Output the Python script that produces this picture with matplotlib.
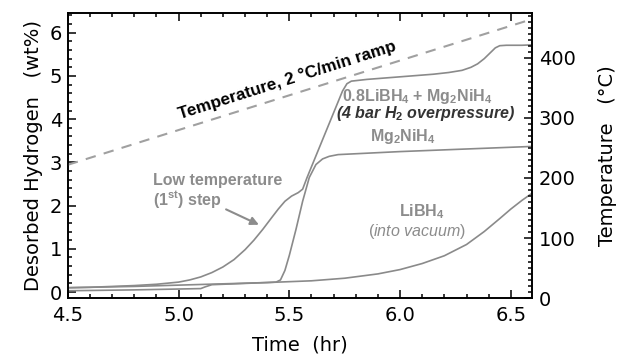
import matplotlib
matplotlib.use("Agg")
import matplotlib.pyplot as plt
from matplotlib.ticker import MultipleLocator

plt.rcParams['font.family'] = ['DejaVu Sans']
plt.rcParams['mathtext.fontset'] = 'custom'
plt.rcParams['mathtext.rm'] = 'Liberation Sans:bold'
plt.rcParams['mathtext.bf'] = 'Liberation Sans:bold'
plt.rcParams['mathtext.it'] = 'Liberation Sans:italic'
plt.rcParams['mathtext.default'] = 'rm'

# ---- data ----
comp_time = [4.50, 4.60, 4.70, 4.80, 4.90, 5.00, 5.05, 5.10, 5.15, 5.20, 5.25, 5.30,
             5.34, 5.38, 5.42, 5.45, 5.48, 5.51, 5.54, 5.56, 5.58, 5.62, 5.66, 5.70,
             5.74, 5.76, 5.78, 5.85, 5.95, 6.05, 6.15, 6.22, 6.28, 6.32, 6.35, 6.38,
             6.41, 6.43, 6.45, 6.48, 6.55, 6.60]
comp_wt = [0.10, 0.11, 0.13, 0.15, 0.18, 0.23, 0.28, 0.35, 0.45, 0.58, 0.75, 0.98,
           1.20, 1.45, 1.72, 1.92, 2.10, 2.22, 2.30, 2.38, 2.65, 3.15, 3.65, 4.15,
           4.65, 4.82, 4.88, 4.92, 4.96, 5.00, 5.04, 5.08, 5.13, 5.20, 5.28, 5.40,
           5.55, 5.65, 5.70, 5.71, 5.71, 5.72]

mg_time = [4.50, 4.80, 5.00, 5.10, 5.12, 5.15, 5.20, 5.30, 5.40, 5.44, 5.46, 5.48,
           5.50, 5.53, 5.56, 5.59, 5.62, 5.65, 5.68, 5.72, 5.80, 6.00, 6.20, 6.40, 6.60]
mg_wt = [0.03, 0.05, 0.07, 0.08, 0.12, 0.17, 0.18, 0.20, 0.22, 0.23, 0.28, 0.50,
         0.85, 1.45, 2.10, 2.65, 2.95, 3.08, 3.14, 3.18, 3.20, 3.25, 3.29, 3.33, 3.37]

li_time = [4.50, 4.80, 5.00, 5.20, 5.40, 5.60, 5.75, 5.90, 6.00, 6.10, 6.20, 6.30,
           6.38, 6.45, 6.50, 6.55, 6.60]
li_wt = [0.10, 0.13, 0.16, 0.19, 0.22, 0.26, 0.32, 0.42, 0.52, 0.66, 0.84, 1.10,
         1.40, 1.70, 1.92, 2.12, 2.30]

temp_time = [4.5, 6.6]
temp_c = [222, 465]

x_ticks = [4.5, 5.0, 5.5, 6.0, 6.5]
x_ticklabels = ["4.5", "5.0", "5.5", "6.0", "6.5"]
wt_ticks = [0, 1, 2, 3, 4, 5, 6]
temp_ticks = [0, 100, 200, 300, 400]

# ---- figure ----
fig = plt.figure(figsize=(6.17, 3.57), dpi=100)
ax = fig.add_axes([0.110, 0.165, 0.752, 0.799])
ax2 = ax.twinx()

curve_c = '#8a8a8a'
text_c = '#8c8c8c'

ax.plot(comp_time, comp_wt, color=curve_c, lw=1.2)
ax.plot(mg_time, mg_wt, color=curve_c, lw=1.2)
ax.plot(li_time, li_wt, color=curve_c, lw=1.2)
ax2.plot(temp_time, temp_c, color='#a0a0a0', lw=1.5, ls=(0, (5, 4)))

ax.set_xlim(4.5, 6.595)
ax.set_ylim(-0.14, 6.46)
ax2.set_ylim(0, 475)

ax.set_xticks(x_ticks)
ax.set_xticklabels(x_ticklabels)
ax.xaxis.set_minor_locator(MultipleLocator(0.1))
ax.set_yticks(wt_ticks)
ax.yaxis.set_minor_locator(MultipleLocator(0.2))
ax2.set_yticks(temp_ticks)
ax2.yaxis.set_minor_locator(MultipleLocator(10))

for a in (ax, ax2):
    for s in a.spines.values():
        s.set_linewidth(1.2)
ax.tick_params(which='both', direction='in', top=True, right=False, labelsize=14, width=1.1)
ax.tick_params(which='major', length=6)
ax.tick_params(which='minor', length=3)
ax.tick_params(axis='x', pad=6)
ax.tick_params(axis='y', pad=4)
ax2.tick_params(which='both', direction='in', labelsize=14, width=1.1, pad=5)
ax2.tick_params(which='major', length=6)
ax2.tick_params(which='minor', length=3)

ax.set_xlabel("Time  (hr)", fontsize=14, labelpad=7)
ax.set_ylabel("Desorbed Hydrogen   (wt%)", fontsize=14, labelpad=5)
ax2.set_ylabel("Temperature   (°C)", fontsize=14, labelpad=16)

bold = dict(family='Liberation Sans', fontweight='bold')

ax.text(5.49, 4.90, "Temperature, 2 °C/min ramp", rotation=17.6, rotation_mode='anchor',
        ha='center', va='center', fontsize=12.3, color='black', **bold)
ax.text(6.077, 4.53, r"0.8LiBH$_4$ + Mg$_2$NiH$_4$", ha='center', va='center',
        fontsize=11.5, color=text_c, **bold)
ax.text(6.115, 4.12, r"(4 bar H$_2$ overpressure)", ha='center', va='center',
        fontsize=11.5, color='#333333', family='Liberation Sans', fontweight='bold',
        fontstyle='italic')
ax.text(6.014, 3.59, r"Mg$_2$NiH$_4$", ha='center', va='center',
        fontsize=11.5, color=text_c, **bold)
ax.text(4.883, 2.59, "Low temperature", ha='left', va='center',
        fontsize=11.5, color=text_c, **bold)
ax.text(4.883, 2.13, r"(1$^{st}$) step", ha='left', va='center',
        fontsize=11.5, color=text_c, **bold)
ax.annotate("", xy=(5.374, 1.53), xytext=(5.203, 1.94),
            arrowprops=dict(arrowstyle='-|>', color=text_c, lw=1.5,
                            mutation_scale=12))
ax.text(6.099, 1.85, r"LiBH$_4$", ha='center', va='center',
        fontsize=11.5, color=text_c, **bold)
ax.text(6.077, 1.41, r"($\mathit{into\ vacuum}$)", ha='center', va='center',
        fontsize=11.5, color=text_c, family='Liberation Sans')

fig.savefig("out.png", dpi=100)
